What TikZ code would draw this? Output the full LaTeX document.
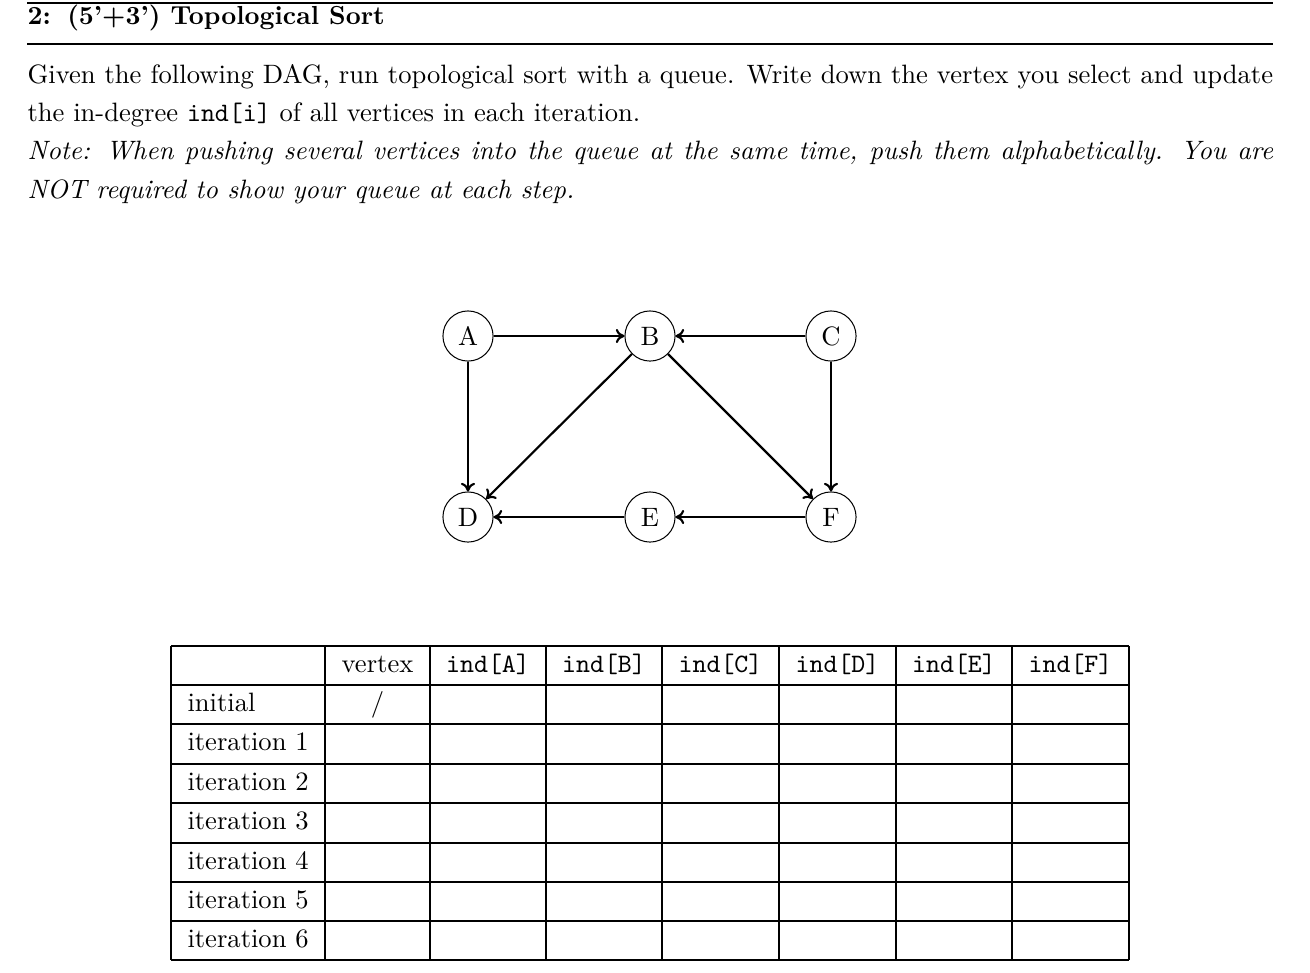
\documentclass[tikz,border=0pt]{standalone}
\usetikzlibrary{arrows.meta}
\begin{document}
\begin{tikzpicture}[x=0.395pt,y=-0.395pt,
  font=\fontsize{10.5}{12.6}\selectfont,
  vtx/.style={circle,draw,minimum size=19.8pt,inner sep=0pt},
  arc/.style={line width=0.85pt,-{To[length=3.4pt,width=5.6pt]}},
  rulebar/.style={line width=0.8pt},
  gridline/.style={line width=0.5pt},
  lbl/.style={inner sep=0pt,anchor=mid west},
  hdr/.style={inner sep=0pt,anchor=mid}
]
\useasboundingbox (0,0) rectangle (1310,972);
% header rules
\coordinate (r1a) at (27,3);  \coordinate (r1b) at (1273,3);
\coordinate (r2a) at (27,44); \coordinate (r2b) at (1273,44);
\draw[rulebar] (r1a) -- (r1b);
\draw[rulebar] (r2a) -- (r2b);
\node[inner sep=0pt,anchor=base west] (title) at (27,24) {\fontsize{10.3}{12}\selectfont\bfseries 2:\hspace{6.5pt}(5'+3') Topological Sort};
% paragraph
\node[inner sep=0pt,anchor=north west,text width=492pt,align=justify] (para) at (27,64)
{\fontsize{10.5}{15.1}\selectfont\setlength{\parindent}{0pt}Given the following DAG, run topological sort with a queue. Write down the vertex you select and update the in-degree \texttt{ind[i]} of all vertices in each iteration.\par
\textit{Note: When pushing several vertices into the queue at the same time, push them alphabetically. You are NOT required to show your queue at each step.}\par};
% graph
\node[vtx] (A) at (468,336) {A};
\node[vtx] (B) at (650,336) {B};
\node[vtx] (C) at (831,336) {C};
\node[vtx] (D) at (468,517) {D};
\node[vtx] (E) at (650,517) {E};
\node[vtx] (F) at (831,517) {F};
\draw[arc] (A) -- (B);
\draw[arc] (C) -- (B);
\draw[arc] (A) -- (D);
\draw[arc] (B) -- (D);
\draw[arc] (B) -- (F);
\draw[arc] (C) -- (F);
\draw[arc] (F) -- (E);
\draw[arc] (E) -- (D);
% table grid
\foreach \x in {171,325,430,546,662,779,896,1012,1129}
  \draw[gridline] (\x,646) -- (\x,960);
\foreach \y in {646,685,724,764,803,843,882,921,960}
  \draw[gridline] (171,\y) -- (1129,\y);
% table header
\node[hdr] (hv) at (377.5,667) {vertex};
\node[hdr] (ha) at (488,667) {\texttt{ind[A]}};
\node[hdr] (hb) at (604,667) {\texttt{ind[B]}};
\node[hdr] (hc) at (720.5,667) {\texttt{ind[C]}};
\node[hdr] (hd) at (837.5,667) {\texttt{ind[D]}};
\node[hdr] (he) at (954,667) {\texttt{ind[E]}};
\node[hdr] (hf) at (1070.5,667) {\texttt{ind[F]}};
% row labels
\node[lbl] (r0) at (187,706) {initial};
\node[hdr] (slash) at (377.5,706) {/};
\node[lbl] (r1) at (187,745.5) {iteration 1};
\node[lbl] (r2) at (187,785) {iteration 2};
\node[lbl] (r3) at (187,824.5) {iteration 3};
\node[lbl] (r4) at (187,864) {iteration 4};
\node[lbl] (r5) at (187,903) {iteration 5};
\node[lbl] (r6) at (187,942) {iteration 6};
\end{tikzpicture}
\end{document}
